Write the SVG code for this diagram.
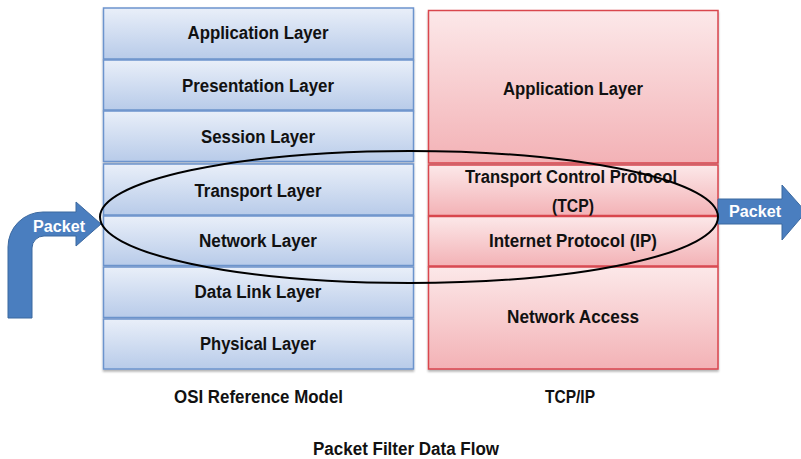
<svg xmlns="http://www.w3.org/2000/svg" width="801" height="459" viewBox="0 0 801 459">
<defs>
<linearGradient id="gb" x1="0" y1="0" x2="0" y2="1">
<stop offset="0" stop-color="#e9eff9"/><stop offset="1" stop-color="#b8cbe9"/>
</linearGradient>
<linearGradient id="gr" x1="0" y1="0" x2="0" y2="1">
<stop offset="0" stop-color="#fce8e9"/><stop offset="1" stop-color="#f3b2b6"/>
</linearGradient>
<filter id="sh" x="-5%" y="-5%" width="110%" height="120%">
<feGaussianBlur in="SourceAlpha" stdDeviation="1"/><feOffset dy="1.5"/>
<feComponentTransfer><feFuncA type="linear" slope="0.3"/></feComponentTransfer>
<feMerge><feMergeNode/><feMergeNode in="SourceGraphic"/></feMerge>
</filter>
</defs>
<style>
.b{fill:url(#gb);stroke:#6c94cd;stroke-width:1.5;filter:url(#sh)}
.r{fill:url(#gr);stroke:#d9464e;stroke-width:1.5;filter:url(#sh)}
.t{font-family:"Liberation Sans",Arial,sans-serif;font-weight:bold;font-size:18px;fill:#111;text-anchor:middle}
.w{font-family:"Liberation Sans",Arial,sans-serif;font-weight:bold;font-size:16px;fill:#fff;text-anchor:middle}
.arr{fill:#4a7ebf;stroke:#3b689f;stroke-width:1}
</style>
<g id="osi-application"><rect class="b" x="103.5" y="8" width="310" height="51"/><text class="t" x="258" y="38.5" textLength="141" lengthAdjust="spacingAndGlyphs">Application Layer</text></g>
<g id="osi-presentation"><rect class="b" x="103.5" y="60" width="310" height="50"/><text class="t" x="258" y="91.5" textLength="152" lengthAdjust="spacingAndGlyphs">Presentation Layer</text></g>
<g id="osi-session"><rect class="b" x="103.5" y="111" width="310" height="50.5"/><text class="t" x="258" y="143" textLength="114" lengthAdjust="spacingAndGlyphs">Session Layer</text></g>
<g id="osi-transport"><rect class="b" x="103.5" y="164" width="310" height="51"/><text class="t" x="258" y="196.5" textLength="127" lengthAdjust="spacingAndGlyphs">Transport Layer</text></g>
<g id="osi-network"><rect class="b" x="103.5" y="216" width="310" height="49.5"/><text class="t" x="258" y="246.5" textLength="118" lengthAdjust="spacingAndGlyphs">Network Layer</text></g>
<g id="osi-datalink"><rect class="b" x="103.5" y="267" width="310" height="50.5"/><text class="t" x="258" y="298" textLength="127" lengthAdjust="spacingAndGlyphs">Data Link Layer</text></g>
<g id="osi-physical"><rect class="b" x="103.5" y="319" width="310" height="50"/><text class="t" x="258" y="350" textLength="116" lengthAdjust="spacingAndGlyphs">Physical Layer</text></g>

<g id="tcp-application"><rect class="r" x="428.5" y="10.5" width="289.5" height="152.5"/><text class="t" x="573" y="95" textLength="140" lengthAdjust="spacingAndGlyphs">Application Layer</text></g>
<g id="tcp-transport"><rect class="r" x="428.5" y="165" width="289.5" height="50.5"/><text class="t" x="571" y="183" textLength="212" lengthAdjust="spacingAndGlyphs">Transport Control Protocol</text><text class="t" x="573" y="211.5" textLength="42" lengthAdjust="spacingAndGlyphs">(TCP)</text></g>
<g id="tcp-internet"><rect class="r" x="428.5" y="216.5" width="289.5" height="49.5"/><text class="t" x="573" y="246.5" textLength="168" lengthAdjust="spacingAndGlyphs">Internet Protocol (IP)</text></g>
<g id="tcp-access"><rect class="r" x="428.5" y="267" width="289.5" height="102"/><text class="t" x="573" y="323" textLength="132" lengthAdjust="spacingAndGlyphs">Network Access</text></g>

<g id="labels">
<text class="t" x="258.5" y="403" textLength="169" lengthAdjust="spacingAndGlyphs">OSI Reference Model</text>
<text class="t" x="570" y="403" textLength="50" lengthAdjust="spacingAndGlyphs">TCP/IP</text>
<text class="t" x="406" y="455" textLength="186" lengthAdjust="spacingAndGlyphs">Packet Filter Data Flow</text>
</g>

<g id="packet-in"><path class="arr" d="M8 318 L8 247 A35 35 0 0 1 43 212 L76 212 L76 202 L101 224 L76 246 L76 236 L44 236 A12 12 0 0 0 32 248 L32 318 Z"/><text class="w" x="59" y="231.5" textLength="52" lengthAdjust="spacingAndGlyphs">Packet</text></g>
<g id="packet-out"><path class="arr" d="M718 199 L782 199 L782 185 L806 212 L782 240 L782 224 L718 224 Z"/><text class="w" x="755" y="217" textLength="52" lengthAdjust="spacingAndGlyphs">Packet</text></g>

<g id="connectors"><ellipse cx="409" cy="217" rx="309" ry="66" fill="none" stroke="#000" stroke-width="2"/></g>
</svg>
